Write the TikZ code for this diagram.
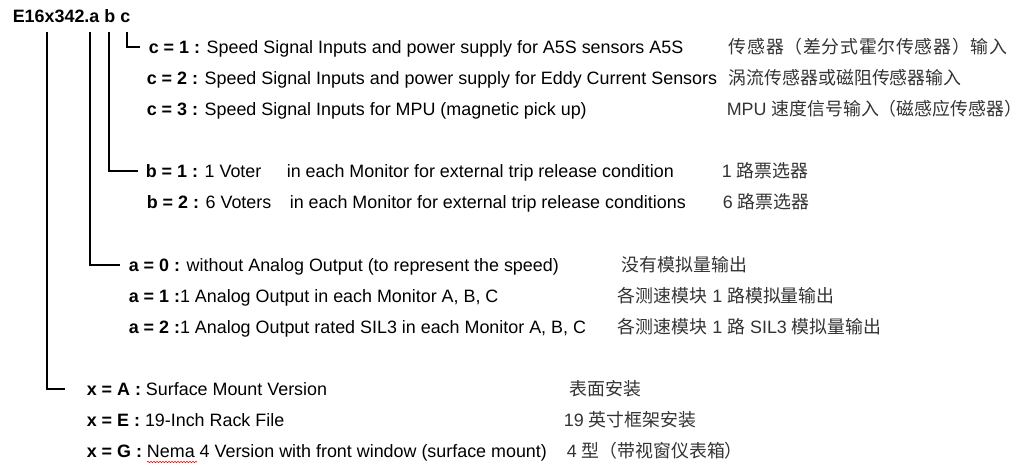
\documentclass[tikz,border=0pt]{standalone}
\usepackage{fontspec}
\setmainfont{Liberation Sans}
\newfontfamily\cjk{Noto Sans CJK SC}
\newfontfamily\cjkw{Noto Sans CJK SC}[LetterSpace=4]
\usetikzlibrary{decorations.pathmorphing}

\begin{document}
\begin{tikzpicture}[x=1pt,y=-1pt,line width=1.6pt,
    txt/.style={anchor=base west,inner sep=0pt,text height=12pt,text depth=0pt,font=\fontsize{17.9}{20}\selectfont},
    zh/.style={txt,text=black!80}]
    \useasboundingbox(0,0)rectangle(1027,471);
    \node[txt](code)at(12,22){\textbf{E16x342.a b c}};
    \coordinate(tx)at(47,32);
    \coordinate(ta)at(90,32);
    \coordinate(tb)at(109,32);
    \coordinate(tc)at(127,32);

    \node[txt](c1)at(148,53){\textbf{c = 1 :} Speed Signal Inputs and power supply for A5S sensors A5S};
    \node[txt](c2)at(146,84){\textbf{c = 2 :} Speed Signal Inputs and power supply for Eddy Current Sensors};
    \node[txt](c3)at(146,115){\textbf{c = 3 :} Speed Signal Inputs for MPU (magnetic pick up)};
    \node[zh](c1zh)at(728,53){\cjkw 传感器（差分式霍尔传感器）输入};
    \node[zh](c2zh)at(728,84){\cjk 涡流传感器或磁阻传感器输入};
    \node[zh](c3zh)at(726,115){MPU {\cjk 速度信号输入（磁感应传感器）}};

    \node[txt](b1)at(145,177){\textbf{b = 1 :} 1 Voter};
    \node[txt](b1r)at(286,177){in each Monitor for external trip release condition};
    \node[txt](b2)at(146,208){\textbf{b = 2 :} 6 Voters};
    \node[txt](b2r)at(289,208){in each Monitor for external trip release conditions};
    \node[zh](b1zh)at(721,177){1 {\cjk 路票选器}};
    \node[zh](b2zh)at(722,208){6 {\cjk 路票选器}};

    \node[txt](a0)at(128,271){\textbf{a = 0 :} without Analog Output (to represent the speed)};
    \node[txt](a1)at(128,302){\textbf{a = 1 :}1 Analog Output in each Monitor A, B, C};
    \node[txt](a2)at(128,333){\textbf{a = 2 :}1 Analog Output rated SIL3 in each Monitor A, B, C};
    \node[zh](a0zh)at(621,271){\cjk 没有模拟量输出};
    \node[zh](a1zh)at(617,302){{\cjk 各测速模块} 1 {\cjk 路模拟量输出}};
    \node[zh](a2zh)at(617,333){{\cjk 各测速模块} 1 {\cjk 路} SIL3 {\cjk 模拟量输出}};

    \node[txt](xA)at(86,395){\textbf{x = A :} Surface Mount Version};
    \node[txt](xE)at(86,426){\textbf{x = E :} 19-Inch Rack File};
    \node[txt](xG)at(86,457){\textbf{x = G :} Nema 4 Version with front window (surface mount)};
    \node[zh](xAzh)at(569,395){\cjk 表面安装};
    \node[zh](xEzh)at(563,426){19 {\cjk 英寸框架安装}};
    \node[zh](xGzh)at(566,457){4 {\cjk 型（带视窗仪表箱）}};

    \draw(tc)|-([xshift=-8pt]c1.west);
    \draw(tb)|-([xshift=-7pt]b1.west);
    \draw(ta)|-([xshift=-8pt]a0.west);
    \draw(tx)|-([xshift=-21pt]xA.west);
    \draw[red,line width=0.6pt,decorate,decoration={snake,amplitude=0.7pt,segment length=3pt}](147,462)--(197,462);
\end{tikzpicture}
\end{document}
